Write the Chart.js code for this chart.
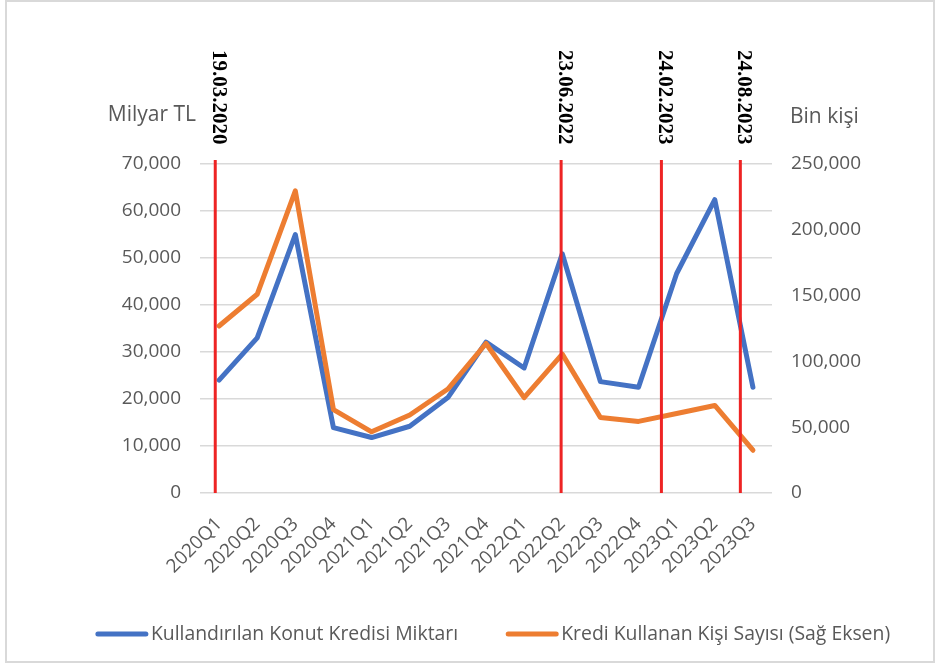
<!DOCTYPE html>
<html>
<head>
<meta charset="utf-8">
<script src="https://cdn.jsdelivr.net/npm/chart.js@4/dist/chart.umd.min.js"></script>
<style>
  html, body { margin: 0; padding: 0; background: #fff; }
  #wrap { position: relative; width: 940px; height: 670px; }
  #frame { position: absolute; left: 5px; top: 0; width: 926px; height: 659px;
           border: 2px solid #d9d9d9; box-sizing: content-box; pointer-events: none; }
</style>
</head>
<body>
<div id="wrap">
  <canvas id="c" width="940" height="670"></canvas>
  <div id="frame"></div>
</div>
<script>
const categories = ['2020Q1','2020Q2','2020Q3','2020Q4','2021Q1','2021Q2','2021Q3','2021Q4',
                    '2022Q1','2022Q2','2022Q3','2022Q4','2023Q1','2023Q2','2023Q3'];
// Kullandırılan Konut Kredisi Miktarı (Milyar TL, left axis)
const loanAmount = [24000, 33000, 55000, 13900, 11800, 14200, 20300, 32100,
                    26600, 50900, 23700, 22500, 46700, 62400, 22500];
// Kredi Kullanan Kişi Sayısı (Bin kişi, right axis)
const borrowers = [126900, 151000, 229600, 63400, 46500, 59300, 79000, 113600,
                   72500, 105500, 57400, 54400, 60400, 66500, 32500];
const seriesNames = ['Kullandırılan Konut Kredisi Miktarı', 'Kredi Kullanan Kişi Sayısı (Sağ Eksen)'];
const leftTitle = 'Milyar TL';
const rightTitle = 'Bin kişi';
// Event markers: label and position on the category axis (index units)
const eventLabels = ['19.03.2020', '23.06.2022', '24.02.2023', '24.08.2023'];
const eventPositions = [-0.1, 8.97, 11.6, 13.67];

const GRAY = '#595959';
const TICK_FONT = { family: 'Open Sans', size: 19 };

const eventPlugin = {
  id: 'events',
  afterDatasetsDraw(chart) {
    const ctx = chart.ctx, x = chart.scales.x, ca = chart.chartArea;
    ctx.save();
    eventPositions.forEach((p, i) => {
      const px = x.getPixelForValue(p);
      ctx.strokeStyle = '#ee2424';
      ctx.lineWidth = 3;
      ctx.beginPath();
      ctx.moveTo(px, ca.top - 4);
      ctx.lineTo(px, ca.bottom);
      ctx.stroke();
      ctx.save();
      ctx.translate(px + 3, ca.top - 114);
      ctx.rotate(Math.PI / 2);
      ctx.fillStyle = '#000';
      ctx.font = 'bold 21px "Liberation Serif"';
      ctx.textAlign = 'left';
      ctx.textBaseline = 'middle';
      ctx.fillText(eventLabels[i], 0, 0);
      ctx.restore();
    });
    ctx.restore();
  },
  afterDraw(chart) {
    const ctx = chart.ctx, ca = chart.chartArea;
    ctx.save();
    ctx.fillStyle = GRAY;
    ctx.font = '21px "Open Sans"';
    ctx.textBaseline = 'middle';
    ctx.textAlign = 'right';
    ctx.fillText(leftTitle, ca.left - 4, ca.top - 49);
    ctx.textAlign = 'left';
    ctx.fillText(rightTitle, chart.scales.y1.left + 18, ca.top - 47);

    // legend (drawn from the datasets)
    ctx.font = '19.4px "Open Sans"';
    const segW = 52, gapTxt = 3, gapItem = 48;
    const ds = chart.data.datasets;
    const widths = ds.map(d => segW + gapTxt + ctx.measureText(d.label).width);
    const total = widths.reduce((a, b) => a + b, 0) + gapItem * (ds.length - 1);
    let lx = (ca.left + ca.right) / 2 + 7 - total / 2;
    const ly = ca.bottom + 141;
    ds.forEach((d, i) => {
      ctx.strokeStyle = d.borderColor;
      ctx.lineWidth = 5;
      ctx.lineCap = 'round';
      ctx.beginPath();
      ctx.moveTo(lx + 2, ly);
      ctx.lineTo(lx + segW - 2, ly);
      ctx.stroke();
      ctx.fillStyle = GRAY;
      ctx.textAlign = 'left';
      ctx.fillText(d.label, lx + segW + gapTxt, ly);
      lx += widths[i] + gapItem;
    });
    ctx.restore();
  }
};

new Chart(document.getElementById('c'), {
  type: 'line',
  data: {
    labels: categories,
    datasets: [
      { label: seriesNames[0], data: loanAmount, yAxisID: 'y', order: 1,
        borderColor: '#4472C4', backgroundColor: '#4472C4', borderWidth: 5,
        pointRadius: 0, tension: 0, borderJoinStyle: 'round', borderCapStyle: 'round' },
      { label: seriesNames[1], data: borrowers, yAxisID: 'y1', order: 0,
        borderColor: '#ED7D31', backgroundColor: '#ED7D31', borderWidth: 5,
        pointRadius: 0, tension: 0, borderJoinStyle: 'round', borderCapStyle: 'round' }
    ]
  },
  options: {
    responsive: false,
    animation: false,
    layout: { padding: { left: 0, right: 0, top: 164, bottom: 59 } },
    plugins: {
      legend: { display: false },
      tooltip: { enabled: false }
    },
    scales: {
      x: {
        offset: true,
        grid: { display: false },
        border: { display: false },
        ticks: { color: GRAY, font: TICK_FONT, maxRotation: 45, minRotation: 45, padding: 12 },
        afterFit(s) { s.height = 118; }
      },
      y: {
        position: 'left', min: 0, max: 70000,
        ticks: { stepSize: 10000, color: GRAY, font: TICK_FONT, padding: 19,
                 callback: v => v.toLocaleString('en-US') },
        grid: { color: '#d9d9d9', lineWidth: 1.5, drawTicks: false },
        border: { display: false },
        afterFit(s) { s.width = 200; }
      },
      y1: {
        position: 'right', min: 0, max: 250000,
        ticks: { stepSize: 50000, color: GRAY, font: TICK_FONT, padding: 19,
                 callback: v => v.toLocaleString('en-US') },
        grid: { display: false, drawTicks: false },
        border: { display: false },
        afterFit(s) { s.width = 168; }
      }
    }
  },
  plugins: [eventPlugin]
});
</script>
</body>
</html>
